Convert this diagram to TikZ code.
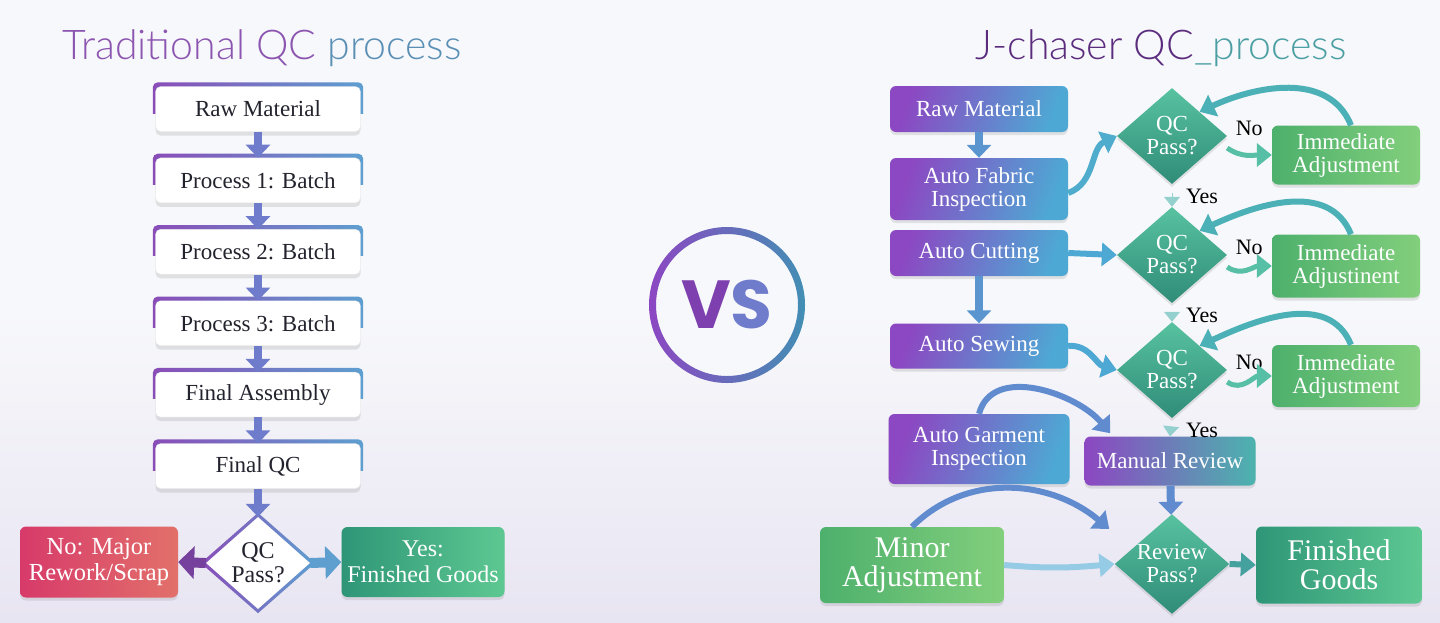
\documentclass[tikz,border=0pt]{standalone}
\usepackage{fontspec}
\setmainfont{Liberation Serif}
\newfontfamily\titlefont{Lato Light}
\newfontfamily\vsfont{Poppins}
\usetikzlibrary{arrows.meta,shapes.geometric,shadows,positioning}

\definecolor{bgtop}{HTML}{F7F8FB}
\definecolor{bgbot}{HTML}{E8E5F2}
\definecolor{inkdark}{HTML}{23232E}
\definecolor{trpurple}{HTML}{8A4DB8}
\definecolor{trblue}{HTML}{5E9FD0}
\definecolor{downblue}{HTML}{6F7BCB}
\definecolor{jpurple}{HTML}{8C47C2}
\definecolor{jblue}{HTML}{4EA8D4}
\definecolor{jteal}{HTML}{4CB3AE}
\definecolor{tealA}{HTML}{58C2A0}
\definecolor{tealB}{HTML}{2F8C78}
\definecolor{greenA}{HTML}{82CF7C}
\definecolor{greenB}{HTML}{4DB06C}
\definecolor{redA}{HTML}{D73A6A}
\definecolor{redB}{HTML}{E2706A}
\definecolor{okA}{HTML}{2E9677}
\definecolor{okB}{HTML}{5EC892}
\definecolor{titlepurple}{HTML}{8B55B0}
\definecolor{titleblue}{HTML}{5A8FB5}
\definecolor{jtitle}{HTML}{5B2C7E}
\definecolor{jtitleteal}{HTML}{4B9FA3}

\begin{document}
\begin{tikzpicture}[
        x = 1pt, y = -1pt, % one unit = one pixel of the reference
        fat/.style = {line width=8pt, -{Triangle[width=24pt,length=13pt]}},
        curvy/.style = {line width=6pt, -{Triangle[width=23pt,length=15pt]}},
        yesarrow/.style = {line width=1pt, draw=jteal!60, shorten <=9pt,
            -{Triangle[width=16pt,length=10pt]}},
        tradbox/.style = {rectangle, rounded corners=5pt, fill=white, draw=black!10,
            minimum width=205pt, minimum height=45pt, text=inkdark,
            font=\fontsize{23}{24}\selectfont,
            drop shadow={shadow xshift=0pt, shadow yshift=-4pt, opacity=.2}},
        jbox/.style = {rectangle, rounded corners=6pt, left color=jpurple,
            right color=jblue, shading angle=70, text=white, align=center,
            minimum width=178pt, minimum height=46pt,
            font=\fontsize{23}{23}\selectfont,
            drop shadow={shadow xshift=0pt, shadow yshift=-3pt, opacity=.2}},
        fixbox/.style = {jbox, left color=greenB, right color=greenA,
            shading angle=90, minimum width=148pt},
        qdia/.style = {diamond, aspect=1.15, minimum width=110pt,
            minimum height=96pt, inner sep=0pt, top color=tealA,
            bottom color=tealB, text=white, align=center,
            font=\fontsize{23}{23}\selectfont,
            drop shadow={shadow xshift=0pt, shadow yshift=-3pt, opacity=.2}},
        lbl/.style = {text=black, font=\fontsize{22}{22}\selectfont}
    ]

    % background
    \shade[top color=bgtop, bottom color=bgbot, middle color=bgtop]
        (0,0) rectangle (1440,622);
    \useasboundingbox (0,0) rectangle (1440,622);

    % titles
    \node[font=\titlefont\fontsize{41}{44}\selectfont] (ttitle) at (262,48)
        {\textcolor{titlepurple}{Traditional QC} \textcolor{titleblue}{process}};
    \node[font=\titlefont\fontsize{41}{44}\selectfont] (jtitle) at (1161,48)
        {\textcolor{jtitle}{J-chaser QC}\textcolor{jtitleteal}{\_process}};

    % traditional column
    \node[tradbox] (t1) at (258,109) {Raw Material};
    \node[tradbox, below=26pt of t1] (t2) {Process 1: Batch};
    \node[tradbox, below=26pt of t2] (t3) {Process 2: Batch};
    \node[tradbox, below=26pt of t3] (t4) {Process 3: Batch};
    \node[tradbox, below=26pt of t4] (t5) {Final Assembly};
    \node[tradbox, below=26pt of t5] (t6) {Final QC};

    \foreach \b in {t1,t2,t3,t4,t5,t6}{
        \begin{scope}
            \clip ([xshift=-6pt,yshift=6pt]\b.north west) rectangle ([xshift=6pt,yshift=-4pt]\b.east);
            \shade[left color=trpurple, right color=trblue, even odd rule, rounded corners=5pt]
                ([xshift=-2.5pt,yshift=4pt]\b.north west) rectangle ([xshift=2.5pt,yshift=-2pt]\b.south east)
                (\b.north west) rectangle (\b.south east);
        \end{scope}
    }

    \node[diamond, aspect=1.13, minimum width=104pt, minimum height=92pt,
        inner sep=0pt, fill=white, align=center, text=inkdark,
        font=\fontsize{24}{24}\selectfont] (tq) at (258,563) {QC\\Pass?};
    \shade[left color=trpurple, right color=trblue, even odd rule]
        ([yshift=4pt]tq.north) -- ([xshift=5pt]tq.east) -- ([yshift=-4pt]tq.south) -- ([xshift=-5pt]tq.west) -- cycle
        (tq.north) -- (tq.east) -- (tq.south) -- (tq.west) -- cycle;

    \node[jbox, left color=redA, right color=redB, shading angle=90,
        minimum width=158pt, minimum height=71pt, font=\fontsize{24.5}{26}\selectfont]
        (tno) at (99,562) {No: Major\\Rework/Scrap};
    \node[jbox, left color=okA, right color=okB, shading angle=90,
        minimum width=163pt, minimum height=70pt, font=\fontsize{24}{26}\selectfont]
        (tyes) at (423,562) {Yes:\\Finished Goods};

    \foreach \a/\b in {t1/t2,t2/t3,t3/t4,t4/t5,t5/t6,t6/tq}
        \draw[fat, draw=downblue, fill=downblue] (\a) -- (\b);
    \draw[fat, draw=trpurple!85!black, line width=10pt, -{Triangle[width=32pt,length=16pt]}] (tq.west) -- (tno.east);
    \draw[fat, draw=trblue, line width=10pt, -{Triangle[width=32pt,length=16pt]}] (tq.east) -- (tyes.west);

    % vs badge
    \node[circle, minimum size=142pt, fill=bgtop,
        drop shadow={shadow xshift=0pt, shadow yshift=-4pt, opacity=.12},
        font=\vsfont\bfseries\fontsize{68}{68}\selectfont] (vs) at (727,305)
        {\textcolor{jpurple!90!black}{V}\textcolor{downblue}{S}};
    \shade[left color=jpurple, right color=jblue!85!black, even odd rule]
        (vs.center) circle[radius=78pt] (vs.center) circle[radius=71pt];

    % j-chaser column
    \node[jbox] (jraw) at (979,109) {Raw Material};
    \node[jbox, minimum height=62pt] (jfab) at (979,189) {Auto Fabric\\Inspection};
    \node[jbox] (jcut) at (979,253) {Auto Cutting};
    \node[jbox, minimum height=45pt] (jsew) at (979,346) {Auto Sewing};
    \node[jbox, minimum width=181pt, minimum height=70pt] (jgar) at (979,449) {Auto Garment\\Inspection};
    \node[jbox, right color=jteal, minimum width=171pt, minimum height=49pt] (jman) at (1170,461) {Manual Review};

    \node[qdia] (q1) at (1172,136) {QC\\Pass?};
    \node[qdia] (q2) at (1172,255) {QC\\Pass?};
    \node[qdia] (q3) at (1172,370) {QC\\Pass?};
    \node[qdia] (qr) at (1172,564) {Review\\Pass?};

    \node[fixbox, minimum height=59pt] (ia1) at (1346,155) {Immediate\\Adjustment};
    \node[fixbox, minimum height=63pt] (ia2) at (1346,266) {Immediate\\Adjustinent};
    \node[fixbox, minimum height=62pt] (ia3) at (1346,376) {Immediate\\Adjustment};

    \node[fixbox, minimum width=184pt, minimum height=76pt,
        font=\fontsize{30}{29}\selectfont] (jmin) at (912,565) {Minor\\Adjustment};
    \node[fixbox, left color=okA, right color=okB, minimum width=166pt,
        minimum height=77pt, font=\fontsize{30}{29}\selectfont] (jfin) at (1339,565) {Finished\\Goods};

    % labels
    \foreach \q/\n in {q1/1,q2/2,q3/3}{
        \node[lbl] (no\n) at ([xshift=22pt,yshift=8pt]\q.east) {No};
        \node[lbl] (yes\n) at ([xshift=30pt,yshift=-12pt]\q.south) {Yes};
    }

    % connectors
    \draw[fat, draw=jblue!80!jpurple] (jraw) -- (jfab);
    \draw[fat, draw=jblue!80!jpurple] (jcut) -- (jsew);
    \draw[curvy, draw=jblue!85!tealA] ([yshift=-4pt]jfab.east) to[out=20,in=205] (q1.west);
    \draw[curvy, draw=jblue] (jcut.east) -- (q2.west);
    \draw[curvy, draw=jblue] (jsew.east) to[out=5,in=165] (q3.west);
    \foreach \q/\f in {q1/ia1,q2/ia2,q3/ia3}{
        \draw[curvy, line width=5pt, draw=tealA!90!jblue] ([yshift=-12pt]\q.east) to[out=-35,in=180] (\f.west);
        \draw[curvy, draw=jteal!80!jblue] ([xshift=5pt]\f.north) to[out=112,in=25] (\q.north east);
    }
    \draw[yesarrow] (q1.south) -- (q2.north);
    \draw[yesarrow] (q2.south) -- (q3.north);
    \draw[yesarrow] (q3.south) -- (jman.north);
    \draw[curvy, draw=jblue!70!jpurple] (jgar.north) to[out=75,in=130] ([xshift=26pt,yshift=3pt]jman.north west);
    \draw[fat, draw=jblue!70!jpurple] (jman) -- (qr);
    \draw[curvy, draw=jblue!70!jpurple] (jmin.north) to[out=45,in=140] ([xshift=-34pt,yshift=10pt]qr.north west);
    \draw[curvy, draw=jblue!60] (jmin.east) to[out=-5,in=185] (qr.west);
    \draw[curvy, draw=jteal!90!black] (qr.east) -- (jfin.west);
\end{tikzpicture}
\end{document}
